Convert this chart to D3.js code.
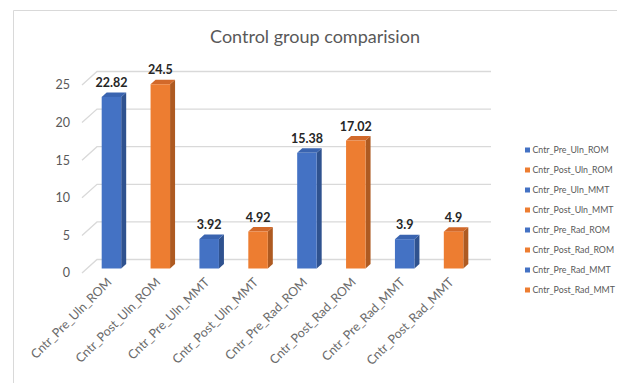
<!DOCTYPE html>
<html>
<head>
<meta charset="utf-8">
<script src="https://cdn.jsdelivr.net/npm/d3@7"></script>
<style>
  body { margin: 0; background: #fff; }
  text { font-family: Lato, "Open Sans", sans-serif; }
</style>
</head>
<body>
<div id="chart"></div>
<script>
// values
const categories = ["Cntr_Pre_Uln_ROM", "Cntr_Post_Uln_ROM", "Cntr_Pre_Uln_MMT", "Cntr_Post_Uln_MMT",
                    "Cntr_Pre_Rad_ROM", "Cntr_Post_Rad_ROM", "Cntr_Pre_Rad_MMT", "Cntr_Post_Rad_MMT"];
const values = [22.82, 24.5, 3.92, 4.92, 15.38, 17.02, 3.9, 4.9];
const yTicks = [0, 5, 10, 15, 20, 25];
const phases = ["Pre", "Post"];

const width = 617;
const height = 383;

// 3d look: bars sit in a plane between the front edge and the back wall
const frontShift = [-5, 4.5];   // bar plane -> front edge
const backShift = [10, -9];     // bar plane -> back wall
const barDepth = [5, -4.5];

const xScale = d3.scaleBand()
    .domain(categories)
    .range([87, 478])
    .paddingInner(0.6)
    .paddingOuter(0.3);

const yScale = d3.scaleLinear()
    .domain([0, 25])
    .range([268.5, 80.5]);

const color = d3.scaleOrdinal().domain(phases).range(["#4472C4", "#ED7D31"]);
const sideColor = d3.scaleOrdinal().domain(phases).range(["#2F528F", "#AE5A21"]);
const topColor = d3.scaleOrdinal().domain(phases).range(["#3A64B0", "#D2692A"]);
const phaseOf = name => name.split("_")[1];

const svg = d3.select("#chart").append("svg")
    .attr("width", width)
    .attr("height", height);

// chart area border (cut by the picture on right and bottom)
svg.append("path")
    .attr("d", `M13.5,${height + 2}V10.5H${width + 2}`)
    .attr("fill", "none")
    .attr("stroke", "#d9d9d9");

svg.append("text")
    .attr("x", 315)
    .attr("y", 43)
    .attr("text-anchor", "middle")
    .attr("font-size", 18)
    .attr("fill", "#595959")
    .text("Control group comparision");

// gridlines on the back wall plus the depth diagonals at the left
const x0 = xScale.range()[0];
const x1 = xScale.range()[1];
const grid = svg.append("g");
yTicks.forEach(v => {
    const y = yScale(v);
    grid.append("path")
        .attr("d", `M${x0 + frontShift[0]},${y + frontShift[1]}L${x0 + backShift[0]},${y + backShift[1]}H${x1 + backShift[0] + 3}`)
        .attr("fill", "none")
        .attr("stroke", "#d9d9d9")
        .attr("stroke-width", 1.3);
    grid.append("text")
        .attr("x", 70)
        .attr("y", y + frontShift[1])
        .attr("dy", "0.35em")
        .attr("text-anchor", "end")
        .attr("font-size", 12.5)
        .attr("fill", "#595959")
        .text(v);
});

const bw = 19.5;
const bars = svg.append("g")
    .selectAll("g")
    .data(categories.map((c, i) => ({ name: c, value: values[i] })))
    .join("g");

const bx = d => xScale(d.name) + (xScale.bandwidth() - bw) / 2;

bars.append("path")
    .attr("fill", d => sideColor(phaseOf(d.name)))
    .attr("d", d => {
        const x = bx(d) + bw, yt = yScale(d.value), yb = yScale(0);
        return `M${x},${yt}l${barDepth[0]},${barDepth[1]}V${yb + barDepth[1]}l${-barDepth[0]},${-barDepth[1]}Z`;
    });

bars.append("path")
    .attr("fill", d => topColor(phaseOf(d.name)))
    .attr("d", d => {
        const x = bx(d), yt = yScale(d.value);
        return `M${x},${yt}l${barDepth[0]},${barDepth[1]}h${bw}l${-barDepth[0]},${-barDepth[1]}Z`;
    });

bars.append("rect")
    .attr("x", bx)
    .attr("y", d => yScale(d.value))
    .attr("width", bw)
    .attr("height", d => yScale(0) - yScale(d.value))
    .attr("fill", d => color(phaseOf(d.name)));

bars.append("text")
    .attr("x", d => bx(d) + bw / 2)
    .attr("y", d => yScale(d.value) - 10)
    .attr("text-anchor", "middle")
    .attr("font-size", 12.5)
    .attr("font-weight", "bold")
    .attr("fill", "#262626")
    .text(d => d.value);

// rotated category labels
svg.append("g")
    .selectAll("text")
    .data(categories)
    .join("text")
    .attr("transform", d => `translate(${xScale(d) + xScale.bandwidth() / 2 + 1},283) rotate(-45)`)
    .attr("text-anchor", "end")
    .attr("font-size", 12.5)
    .attr("fill", "#6b6b6b")
    .text(d => d);

// legend
const legend = svg.append("g")
    .selectAll("g")
    .data(categories)
    .join("g")
    .attr("transform", (d, i) => `translate(525,${150 + i * 20})`);

legend.append("rect")
    .attr("y", -2.5)
    .attr("width", 5)
    .attr("height", 5)
    .attr("fill", d => color(phaseOf(d)));

legend.append("text")
    .attr("x", 7.5)
    .attr("dy", "0.35em")
    .attr("font-size", 8.8)
    .attr("fill", "#595959")
    .text(d => d);
</script>
</body>
</html>
